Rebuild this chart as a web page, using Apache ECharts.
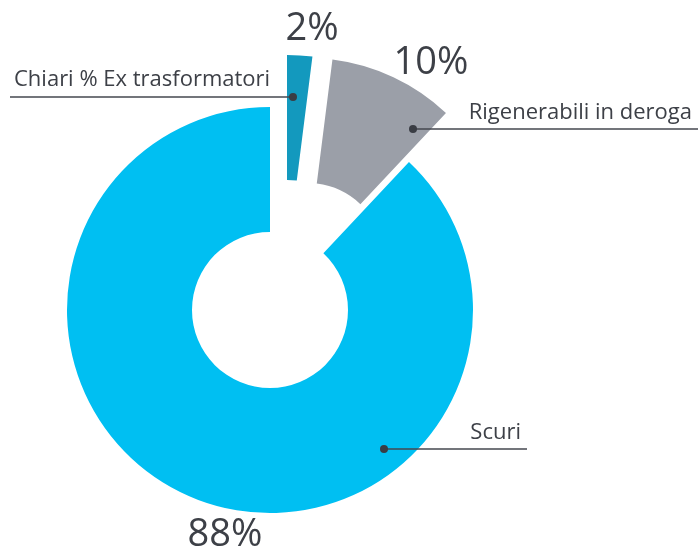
<!DOCTYPE html>
<html>
<head>
<meta charset="utf-8">
<script src="https://cdn.jsdelivr.net/npm/echarts@6/dist/echarts.min.js"></script>
<style>
  html, body { margin: 0; padding: 0; background: #fff; }
  #chart { width: 698px; height: 549px; }
</style>
</head>
<body>
<div id="chart"></div>
<script>
// data
const names = ['Chiari % Ex trasformatori', 'Rigenerabili in deroga', 'Scuri'];
const values = [2, 10, 88];

// styles / placement
const colors = ['#1399be', '#9b9fa8', '#00bff2'];
const textColor = '#3d4047';
// each slice is drawn by its own ring so the two small ones can be pulled out
const sliceCenters = [[287, 258], [307, 261], [270, 310]];
const namePos = [
  { x: 14, y: 80, align: 'left' },
  { x: 692, y: 113, align: 'right' },
  { x: 521, y: 433, align: 'right' },
];
const lineFrom = [[293, 97], [413, 129], [384, 449]];
const lineTo = [[10, 97], [698, 129], [527, 449]];
const pctPos = [[312, 29], [431, 63], [225, 535]];

const chartDom = document.getElementById('chart');
const pieChart = echarts.init(chartDom);

const ring = {
  type: 'pie',
  radius: [78, 203],
  startAngle: 90,
  clockwise: true,
  silent: true,
  label: { show: false },
  labelLine: { show: false },
};

const sliceSeries = names.map((_, k) => ({
  ...ring,
  center: sliceCenters[k],
  data: names.map((name, i) => ({
    name,
    value: values[i],
    itemStyle: { color: i === k ? colors[i] : 'transparent' },
  })),
}));

const nameSeries = {
  ...ring,
  z: 5,
  center: sliceCenters[2],
  itemStyle: { color: 'transparent' },
  label: {
    show: true,
    formatter: '{b}',
    fontFamily: 'Open Sans',
    fontSize: 22,
    color: textColor,
  },
  labelLine: {
    show: true,
    lineStyle: { color: '#44474f', width: 1.5 },
  },
  labelLayout: (params) => {
    const i = params.dataIndex;
    return {
      x: namePos[i].x,
      y: namePos[i].y,
      align: namePos[i].align,
      verticalAlign: 'middle',
      labelLinePoints: [lineFrom[i], lineTo[i], lineTo[i]],
    };
  },
  data: names.map((name, i) => ({ name, value: values[i] })),
};

const pctSeries = {
  ...ring,
  z: 5,
  center: sliceCenters[2],
  itemStyle: { color: 'transparent' },
  label: {
    show: true,
    formatter: '{d}%',
    fontFamily: 'Open Sans',
    fontSize: 38,
    color: textColor,
  },
  labelLayout: (params) => {
    const p = pctPos[params.dataIndex];
    return { x: p[0], y: p[1], align: 'center', verticalAlign: 'middle' };
  },
  data: names.map((name, i) => ({ name, value: values[i] })),
};

const option = {
  animation: false,
  series: [...sliceSeries, nameSeries, pctSeries],
  graphic: lineFrom.map((p) => ({
    type: 'circle',
    shape: { cx: p[0], cy: p[1], r: 4 },
    style: { fill: '#3a3d44' },
    z: 100,
  })),
};

option && pieChart.setOption(option);

window.addEventListener('resize', function () {
  pieChart.resize();
});
</script>
</body>
</html>
